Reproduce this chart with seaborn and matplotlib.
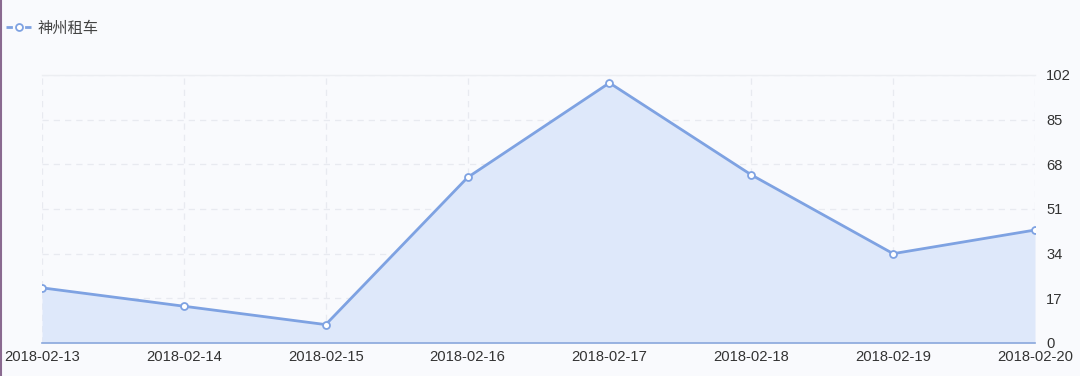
import matplotlib
matplotlib.use("Agg")
import matplotlib.pyplot as plt
import seaborn as sns
import pandas as pd
from matplotlib.lines import Line2D

dates = ["2018-02-13", "2018-02-14", "2018-02-15", "2018-02-16",
         "2018-02-17", "2018-02-18", "2018-02-19", "2018-02-20"]
values = [21, 14, 7, 63, 99, 64, 34, 43]
series_name = "神州租车"
yticks = [0, 17, 34, 51, 68, 85, 102]

sns.set_theme(style="white")
plt.rcParams['font.family'] = ['Liberation Sans', 'Noto Sans CJK SC', 'DejaVu Sans']

bg = "#F9FAFD"
line_c = "#7EA2E2"
fill_c = "#DEE8FA"

df = pd.DataFrame({"date": dates, "value": values, "x": range(len(dates))})

fig = plt.figure(figsize=(10.8, 3.76), dpi=100, facecolor=bg)
ax = fig.add_axes([42/1080, 1 - 343/376, (1035-42)/1080, (343-75)/376])
ax.set_facecolor(bg)

ax.fill_between(df["x"], df["value"], 0, color=fill_c, zorder=1, linewidth=0)
sns.lineplot(data=df, x="x", y="value", ax=ax, color=line_c, linewidth=2,
             marker="o", markersize=5, markerfacecolor="white",
             markeredgecolor=line_c, markeredgewidth=1.3, zorder=3)

ax.set_xlim(0, len(dates) - 1)
ax.set_ylim(0, 102)
ax.set_xticks(range(len(dates)))
ax.set_xticklabels(dates)
ax.set_yticks(yticks)
ax.yaxis.tick_right()
ax.tick_params(axis="both", length=0, labelsize=10.6, labelcolor="#333333")
ax.tick_params(axis="y", pad=8)
ax.tick_params(axis="x", pad=5)
ax.set_xlabel("")
ax.set_ylabel("")

ax.grid(True, color="#E8EAF0", linestyle=(0, (5, 4)), linewidth=0.9)
ax.set_axisbelow(True)
for s in ["left", "right"]:
    ax.spines[s].set_visible(False)
ax.spines["top"].set_color("#ECEEF2")
ax.spines["top"].set_linewidth(1)
ax.spines["bottom"].set_color("#8AA8DC")
ax.spines["bottom"].set_linewidth(1.2)

ax.get_legend() and ax.get_legend().remove()
handle = Line2D([0], [0], color=line_c, linewidth=2, linestyle=(0, (2.3, 4.4)),
                marker="o", markersize=5, markerfacecolor="white",
                markeredgecolor=line_c, markeredgewidth=1.3)
fig.legend([handle], [series_name], loc="center left",
           bbox_to_anchor=(-0.007, 1 - 28/376), frameon=False,
           handlelength=1.65, handletextpad=0.4,
           labelcolor="#444444", prop={'family': ['Noto Sans CJK SC', 'DejaVu Sans'], 'size': 11})

fig.add_artist(Line2D([0.001, 0.001], [0, 1], transform=fig.transFigure,
                      color="#8A6A90", linewidth=1.5))

fig.savefig("out.png", dpi=100, facecolor=bg)
